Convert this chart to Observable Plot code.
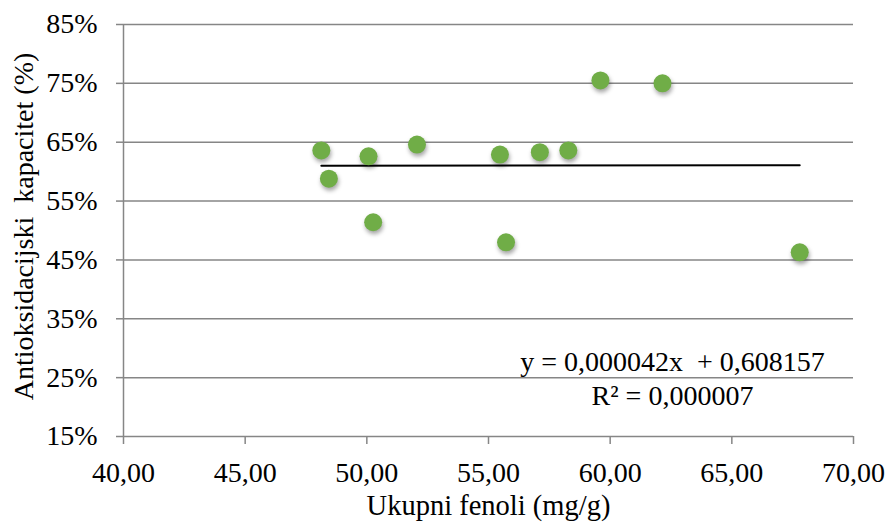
<!DOCTYPE html>
<html>
<head>
<meta charset="utf-8">
<script src="https://cdn.jsdelivr.net/npm/d3@7"></script>
<script src="https://cdn.jsdelivr.net/npm/@observablehq/plot@0.6"></script>
<style>
  html, body { margin: 0; padding: 0; background: #fff; }
  svg text { font-family: 'Liberation Serif', 'Times New Roman', serif; }
</style>
</head>
<body>
<div id="chart"></div>
<script>
// Data
const fenoli = [48.13, 48.44, 50.07, 50.26, 52.06, 55.47, 55.72, 57.11, 58.28, 59.60, 62.15, 67.79];
const kapacitet = [0.636, 0.588, 0.626, 0.514, 0.646, 0.629, 0.480, 0.633, 0.636, 0.755, 0.750, 0.463];
const xTicks = [40, 45, 50, 55, 60, 65, 70];
const yTicks = [0.15, 0.25, 0.35, 0.45, 0.55, 0.65, 0.75, 0.85];
const slope = 0.000042;
const intercept = 0.608157;
const equationText = "y = 0,000042x  + 0,608157";
const r2Text = "R² = 0,000007";
const xTitle = "Ukupni fenoli (mg/g)";
const yTitle = "Antioksidacijski  kapacitet (%)";

const points = fenoli.map((x, i) => ({x, y: kapacitet[i]}));
const xMin = d3.min(fenoli), xMax = d3.max(fenoli);
const trend = [xMin, xMax].map(x => ({x, y: slope * x + intercept}));

const grid = "#868686";
const font = "Liberation Serif";

const chart = Plot.plot({
  width: 890,
  height: 529,
  marginLeft: 123,
  marginRight: 37,
  marginTop: 24,
  marginBottom: 93,
  style: {fontFamily: font, fontSize: "28px", color: "#000", background: "#fff"},
  x: {domain: [40, 70]},
  y: {domain: [0.15, 0.85]},
  marks: [
    Plot.ruleY(yTicks, {stroke: grid, strokeWidth: 1.5}),
    Plot.axisY({ticks: yTicks, tickSize: 7, tickPadding: 19, stroke: grid, strokeWidth: 1.5,
      strokeOpacity: 1, fontSize: 28, fontFamily: font, fill: "#000", label: null,
      tickFormat: d => Math.round(d * 100) + "%"}),
    Plot.axisX({ticks: xTicks, tickSize: 8, tickPadding: 18, stroke: grid, strokeWidth: 1.5,
      strokeOpacity: 1, fontSize: 28, fontFamily: font, fill: "#000", label: null,
      tickFormat: d => d.toFixed(2).replace(".", ",")}),
    Plot.ruleX([40], {stroke: grid, strokeWidth: 1.5}),
    Plot.line(trend, {x: "x", y: "y", stroke: "#000", strokeWidth: 2}),
    Plot.dot(points, {x: "x", y: "y", r: 9, fill: "#70AD47", stroke: "none",
      imageFilter: "drop-shadow(1px 3px 2px rgba(0,0,0,0.35))"}),
    Plot.text([equationText], {x: 62.56, y: 0.276, text: d => d, fontSize: 28, fontFamily: font, fill: "#000", textAnchor: "middle"}),
    Plot.text([r2Text], {x: 62.56, y: 0.218, text: d => d, fontSize: 28, fontFamily: font, fill: "#000", textAnchor: "middle"}),
    Plot.text([xTitle], {frameAnchor: "bottom", dy: 78, text: d => d, fontSize: 28.5, fontFamily: font, fill: "#000", textAnchor: "middle"}),
    Plot.text([yTitle], {frameAnchor: "left", dx: -99, dy: -4, rotate: -90, text: d => d, fontSize: 28, fontFamily: font, fill: "#000", textAnchor: "middle"})
  ]
});
document.getElementById("chart").appendChild(chart);
</script>
</body>
</html>
